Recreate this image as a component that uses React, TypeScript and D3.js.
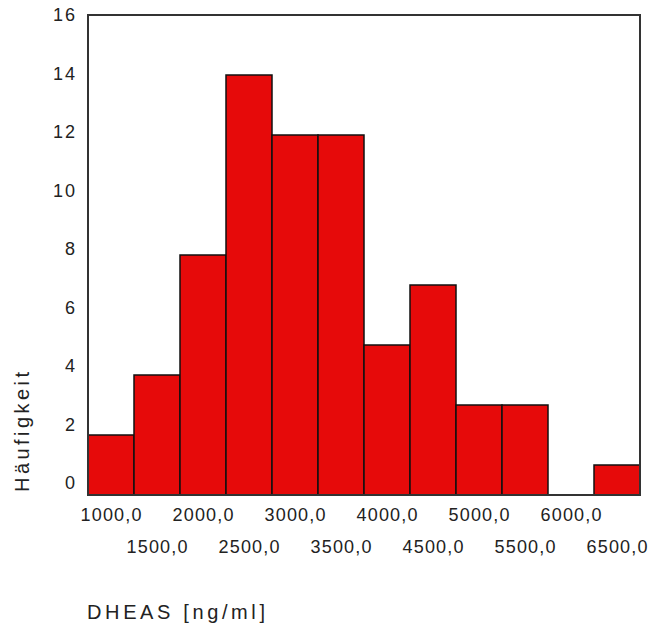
import React from "react";
import * as d3 from "d3";

const binCenters = [1000, 1500, 2000, 2500, 3000, 3500, 4000, 4500, 5000, 5500, 6000, 6500];
const counts = [2, 4, 8, 14, 12, 12, 5, 7, 3, 3, 0, 1];
const yTicks = [0, 2, 4, 6, 8, 10, 12, 14, 16];
const xTickLabels = ["1000,0", "1500,0", "2000,0", "2500,0", "3000,0", "3500,0", "4000,0", "4500,0", "5000,0", "5500,0", "6000,0", "6500,0"];
const binWidth = 500;

export default function App() {
  const W = 649, H = 628;
  const left = 88, right = 640, top = 15, bottom = 495;
  const x = d3.scaleLinear().domain([750, 6750]).range([left, right]);
  const y = d3.scaleLinear().domain([0, 16]).range([bottom, top]);
  const yLabel = d3.scaleLinear().domain([0, 16]).range([483, 15]);
  const font = "Liberation Sans, Arial, sans-serif";
  return (
    <svg width={W} height={H} style={{ position: "absolute", left: 0, top: 0, background: "#fff" }}>
      <rect x={0} y={0} width={W} height={H} fill="#fff" />
      {binCenters.map((c, i) =>
        counts[i] > 0 ? (
          <rect
            key={i}
            x={x(c - binWidth / 2)}
            y={y(counts[i])}
            width={x(c + binWidth / 2) - x(c - binWidth / 2)}
            height={y(0) - y(counts[i])}
            fill="#e60a0a"
            stroke="#111"
            strokeWidth={1.5}
          />
        ) : null
      )}
      <rect x={left} y={top} width={right - left} height={bottom - top} fill="none" stroke="#333" strokeWidth={2} />
      {yTicks.map((t) => (
        <text
          key={t}
          x={75}
          y={yLabel(t)}
          dy="0.35em"
          textAnchor="end"
          fontFamily={font}
          fontSize={18}
          fill="#222"
          {...(t >= 10 ? { textLength: 22, lengthAdjust: "spacing" } : {})}
        >
          {t}
        </text>
      ))}
      {binCenters.map((c, i) => (
        <text
          key={c}
          x={x(c)}
          y={i % 2 === 0 ? 515 : 547}
          dy="0.35em"
          textAnchor="middle"
          fontFamily={font}
          fontSize={18}
          fill="#222"
          textLength={61}
          lengthAdjust="spacing"
        >
          {xTickLabels[i]}
        </text>
      ))}
      <text x={87} y={612} dy="0.35em" fontFamily={font} fontSize={20} fill="#222" textLength={178} lengthAdjust="spacing">
        DHEAS [ng/ml]
      </text>
      <text
        transform={`translate(22,432) rotate(-90)`}
        dy="0.35em"
        textAnchor="middle"
        fontFamily={font}
        fontSize={20}
        fill="#222"
        textLength={120}
        lengthAdjust="spacing"
      >
        Häufigkeit
      </text>
    </svg>
  );
}
